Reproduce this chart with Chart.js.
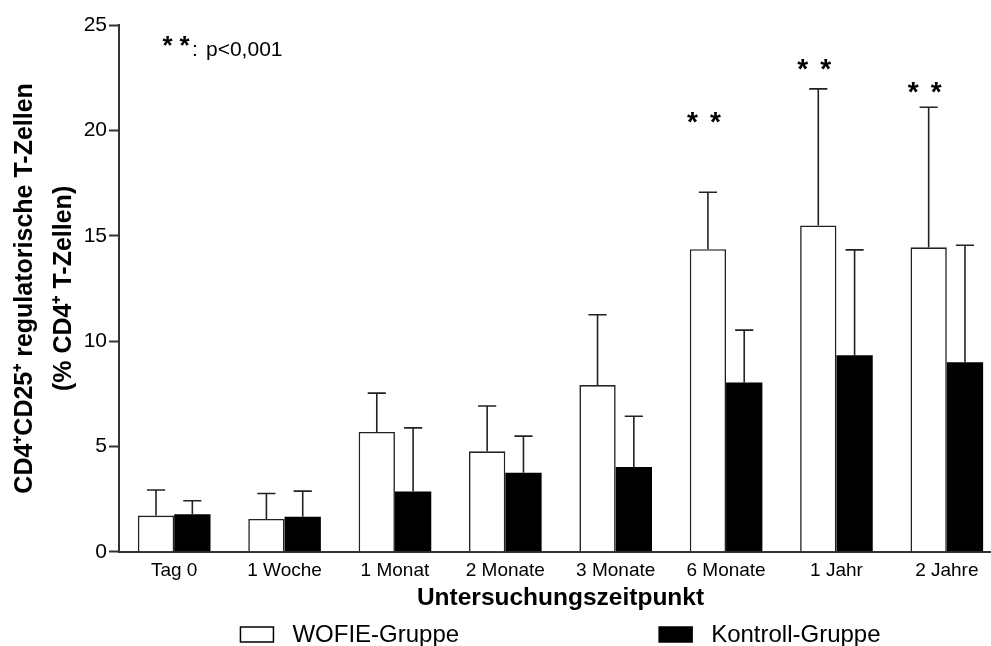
<!DOCTYPE html>
<html>
<head>
<meta charset="utf-8">
<title>CD4+CD25+ regulatorische T-Zellen</title>
<script src="https://cdn.jsdelivr.net/npm/chart.js@4.4.0/dist/chart.umd.min.js"></script>
<style>
  html, body { margin: 0; padding: 0; background: #fff; overflow: hidden; }
  #wrap { position: relative; width: 1002px; height: 646px; }
</style>
</head>
<body>
<div id="wrap"><canvas id="chart"></canvas></div>
<script>
const timepoints = ['Tag 0', '1 Woche', '1 Monat', '2 Monate', '3 Monate', '6 Monate', '1 Jahr', '2 Jahre'];
const wofieMean = [1.72, 1.56, 5.69, 4.77, 7.91, 14.36, 15.49, 14.45];
const wofieSd = [1.21, 1.21, 1.84, 2.15, 3.34, 2.70, 6.48, 6.65];
const kontrollMean = [1.78, 1.66, 2.86, 3.75, 4.03, 8.03, 9.33, 9.00];
const kontrollSd = [0.64, 1.22, 3.02, 1.74, 2.40, 2.49, 5.00, 5.55];
// where the "* *" marks sit above the WOFIE bars (null = no mark)
const starLevel = [null, null, null, null, null, 20.62, 23.14, 22.02];
const yTicks = [0, 5, 10, 15, 20, 25];

const FONT = "'Liberation Sans', Arial, sans-serif";

// one-sided SD whiskers on top of each bar
const errorBars = {
  id: 'errorBars',
  afterDatasetsDraw(chart) {
    const ctx = chart.ctx;
    const y = chart.scales.y;
    const sds = [wofieSd, kontrollSd];
    ctx.save();
    ctx.strokeStyle = '#222';
    ctx.lineWidth = 1.6;
    chart.data.datasets.forEach((ds, di) => {
      chart.getDatasetMeta(di).data.forEach((bar, i) => {
        const top = y.getPixelForValue(ds.data[i] + sds[di][i]);
        const half = bar.width / 4;
        ctx.beginPath();
        ctx.moveTo(bar.x, bar.y);
        ctx.lineTo(bar.x, top);
        ctx.moveTo(bar.x - half, top);
        ctx.lineTo(bar.x + half, top);
        ctx.stroke();
      });
    });
    ctx.restore();
  }
};

function drawStars(ctx, cx, cy, gap, size) {
  ctx.font = 'bold ' + size + 'px ' + FONT;
  const m = ctx.measureText('*');
  const base = cy + (m.actualBoundingBoxAscent - m.actualBoundingBoxDescent) / 2;
  ctx.textAlign = 'center';
  ctx.textBaseline = 'alphabetic';
  ctx.fillText('*', cx - gap / 2, base);
  ctx.fillText('*', cx + gap / 2, base);
}

const annotations = {
  id: 'annotations',
  afterDraw(chart) {
    const ctx = chart.ctx;
    const y = chart.scales.y;
    const area = chart.chartArea;
    ctx.save();
    ctx.fillStyle = '#000';

    // significance marks
    const meta = chart.getDatasetMeta(0);
    starLevel.forEach((lvl, i) => {
      if (lvl == null) return;
      drawStars(ctx, meta.data[i].x - 4, y.getPixelForValue(lvl), 23, 28);
    });

    // key in the upper left corner
    const kx = area.left + 57;
    const ky = y.getPixelForValue(24.24);
    drawStars(ctx, kx, ky, 17, 26);
    ctx.font = '21px ' + FONT;
    ctx.textAlign = 'left';
    ctx.textBaseline = 'alphabetic';
    ctx.fillText(':', kx + 16, ky + 15);
    ctx.fillText('p<0,001', kx + 30, ky + 15);

    // legend
    ctx.font = '24px ' + FONT;
    const boxW = 33, boxH = 15, textGap = 19, itemGap = 200;
    const items = chart.data.datasets.map(ds => ({
      text: ds.label, fill: ds.backgroundColor, w: ctx.measureText(ds.label).width
    }));
    const total = items.reduce((s, it) => s + boxW + textGap + it.w, 0) + itemGap * (items.length - 1);
    let x = (area.left + area.right) / 2 - total / 2;
    const baseY = chart.height - 4;
    items.forEach(it => {
      ctx.fillStyle = it.fill;
      ctx.fillRect(x, baseY - boxH, boxW, boxH);
      ctx.strokeStyle = '#000';
      ctx.lineWidth = 1.5;
      ctx.strokeRect(x, baseY - boxH, boxW, boxH);
      ctx.fillStyle = '#000';
      ctx.fillText(it.text, x + boxW + textGap, baseY);
      x += boxW + textGap + it.w + itemGap;
    });
    ctx.restore();
  }
};

const ctx = document.getElementById('chart').getContext('2d');
new Chart(ctx, {
  type: 'bar',
  data: {
    labels: timepoints,
    datasets: [
      {
        label: 'WOFIE-Gruppe',
        data: wofieMean,
        backgroundColor: '#ffffff',
        borderColor: '#222',
        borderWidth: 1.6
      },
      {
        label: 'Kontroll-Gruppe',
        data: kontrollMean,
        backgroundColor: '#000000',
        borderColor: '#000',
        borderWidth: 0
      }
    ]
  },
  options: {
    responsive: true,
    maintainAspectRatio: false,
    animation: false,
    layout: { padding: { top: 25, right: 0, bottom: 33, left: 0 } },
    categoryPercentage: 0.658,
    barPercentage: 1.0,
    plugins: {
      legend: { display: false },
      tooltip: { enabled: false }
    },
    scales: {
      x: {
        offset: true,
        afterFit: s => { s.height -= 9; },
        grid: { display: false, drawTicks: false },
        border: { display: true, color: '#333', width: 2 },
        ticks: {
          color: '#000',
          font: { family: FONT, size: 19 },
          padding: 8,
          maxRotation: 0,
          autoSkip: false
        },
        title: {
          display: true,
          text: 'Untersuchungszeitpunkt',
          color: '#000',
          font: { family: FONT, size: 24.5, weight: 'bold' },
          padding: { top: 2, bottom: 0 }
        }
      },
      y: {
        min: 0,
        max: 25,
        afterFit: s => { s.width = 119; },
        afterBuildTicks: s => { s.ticks = yTicks.map(v => ({ value: v })); },
        grid: {
          drawOnChartArea: false,
          drawTicks: true,
          tickLength: 10,
          tickColor: '#333',
          tickWidth: 2
        },
        border: { display: true, color: '#333', width: 2 },
        ticks: {
          color: '#000',
          font: { family: FONT, size: 21 },
          padding: 2
        },
        title: {
          display: true,
          text: ['CD4\u207ACD25\u207A regulatorische T-Zellen', '(% CD4\u207A T-Zellen)'],
          color: '#000',
          font: { family: FONT, size: 25, weight: 'bold', lineHeight: 1.54 },
          padding: { top: 6, bottom: 0 }
        }
      }
    }
  },
  plugins: [errorBars, annotations]
});
</script>
</body>
</html>
